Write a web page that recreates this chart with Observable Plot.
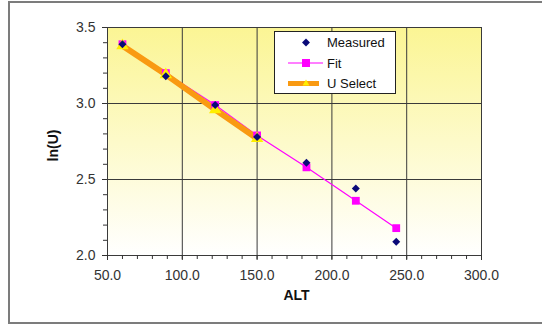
<!DOCTYPE html>
<html>
<head>
<meta charset="utf-8">
<script src="https://cdn.jsdelivr.net/npm/d3@7"></script>
<script src="https://cdn.jsdelivr.net/npm/@observablehq/plot@0.6"></script>
<style>
  body { margin: 0; background: #fff; font-family: "Liberation Sans", Arial, sans-serif; }
  #chart { position: relative; width: 542px; height: 325px; overflow: hidden; }
  #outer { position: absolute; left: 8px; top: 1px; width: 600px; height: 323px;
           border: 2px solid #7c7c7c; border-right: none; box-sizing: border-box; }
  #chart svg.plot { position: absolute; left: 0; top: 0; }
  #legend { position: absolute; left: 274px; top: 31px; width: 122px; height: 63px;
            border: 1px solid #222; background: #fff; box-sizing: border-box; }
</style>
</head>
<body>
<div id="chart"><div id="outer"></div></div>
<script>
// Altitude of each sample
const alt = [60, 89, 122, 150, 183, 216, 243];
// ln(U) as measured
const measured = [3.39, 3.18, 2.99, 2.78, 2.61, 2.44, 2.09];
// ln(U) from the straight-line fit
const fit = [3.39, 3.20, 2.99, 2.79, 2.58, 2.36, 2.18];
// Selected U values (first four altitudes)
const uSelectAlt = [60, 89, 122, 150];
const uSelect = [3.38, 3.19, 2.96, 2.77];

const xTicks = [50, 100, 150, 200, 250, 300];
const yTicks = [2.0, 2.5, 3.0, 3.5];
const xGrid = [100, 150, 200, 250];
const yGrid = [2.5, 3.0];

const seriesNames = ["Measured", "Fit", "U Select"];

const rows = alt.map((a, i) => ({alt: a, measured: measured[i], fit: fit[i]}));
const selRows = uSelectAlt.map((a, i) => ({alt: a, u: uSelect[i]}));

const fmt = d => d.toFixed(1);

const plot = Plot.plot({
  width: 542,
  height: 325,
  marginLeft: 107,
  marginRight: 61,
  marginTop: 27,
  marginBottom: 70,
  x: {domain: [50, 300], label: null},
  y: {domain: [2.0, 3.5], label: null},
  style: {fontFamily: "'Liberation Sans', Arial, sans-serif", fontSize: "14px", color: "#333", background: "transparent"},
  marks: [
    Plot.frame({fill: "url(#plotBg)", stroke: "none"}),
    Plot.gridX(xGrid, {stroke: "#3a3a3a", strokeOpacity: 1, strokeWidth: 1}),
    Plot.gridY(yGrid, {stroke: "#3a3a3a", strokeOpacity: 1, strokeWidth: 1}),
    Plot.frame({stroke: "#3a3a3a", strokeWidth: 1}),
    // minor ticks
    Plot.axisX(d3.range(50, 301, 10), {tickSize: 4, tickFormat: () => "", label: null, stroke: "#333"}),
    Plot.axisY(d3.range(20, 36, 1).map(v => v / 10), {tickSize: 4, tickFormat: () => "", label: null, stroke: "#333"}),
    // major ticks and labels
    Plot.axisX(xTicks, {tickSize: 5, tickPadding: 10, tickFormat: fmt, label: null, stroke: "#333", fill: "#333", fontSize: 14}),
    Plot.axisY(yTicks, {tickSize: 5, tickPadding: 7, tickFormat: fmt, label: null, stroke: "#333", fill: "#333", fontSize: 14}),
    // series
    Plot.line(rows, {x: "alt", y: "fit", stroke: "#ff00ff", strokeWidth: 1.2}),
    Plot.line(selRows, {x: "alt", y: "u", stroke: "#f99a12", strokeWidth: 6, strokeLinecap: "butt"}),
    Plot.dot(rows, {x: "alt", y: "fit", symbol: "square", fill: "#ff00ff", r: 4.4}),
    Plot.dot(selRows, {x: "alt", y: "u", symbol: "triangle", fill: "#ffee00", r: 4.6}),
    Plot.dot(rows, {x: "alt", y: "measured", symbol: "diamond2", fill: "#0a0a78", stroke: "none", r: 3.6}),
    // axis titles
    Plot.text(["ALT"], {frameAnchor: "bottom", dx: 2, dy: 44, text: d => d, fontWeight: "bold", fontSize: 14, fill: "#111"}),
    Plot.text(["ln(U)"], {frameAnchor: "left", textAnchor: "middle", dx: -54, dy: 4, rotate: -90, text: d => d, fontWeight: "bold", fontSize: 14, fill: "#111"})
  ]
});

// vertical yellow-to-white fill of the plotting area
const defs = d3.select(plot).insert("defs", ":first-child");
const grad = defs.append("linearGradient").attr("id", "plotBg")
  .attr("x1", 0).attr("y1", 0).attr("x2", 0).attr("y2", 1);
grad.append("stop").attr("offset", "0%").attr("stop-color", "#fbf594");
grad.append("stop").attr("offset", "100%").attr("stop-color", "#ffffff");
plot.classList.add("plot");

const chart = document.getElementById("chart");
chart.appendChild(plot);

// legend box
const legend = document.createElement("div");
legend.id = "legend";
chart.appendChild(legend);
const lsvg = d3.select(legend).append("svg").attr("width", 120).attr("height", 61)
  .style("font-family", "'Liberation Sans', Arial, sans-serif").style("font-size", "13px");
const rowY = [10.5, 31, 51.5];
seriesNames.forEach((name, i) => {
  const g = lsvg.append("g").attr("transform", `translate(0,${rowY[i]})`);
  if (i === 0) {
    g.append("path").attr("d", d3.symbol(d3.symbolDiamond2, 40)()).attr("transform", "translate(31,0)").attr("fill", "#0a0a78");
  } else if (i === 1) {
    g.append("line").attr("x1", 13).attr("x2", 48).attr("stroke", "#ff00ff").attr("stroke-width", 1.2);
    g.append("rect").attr("x", 27).attr("y", -4).attr("width", 8).attr("height", 8).attr("fill", "#ff00ff");
  } else {
    g.append("line").attr("x1", 13).attr("x2", 44).attr("stroke", "#f99a12").attr("stroke-width", 5);
    g.append("path").attr("d", d3.symbol(d3.symbolTriangle, 20)()).attr("transform", "translate(31,0)").attr("fill", "#ffee00");
  }
  g.append("text").attr("x", 52).attr("y", 0).attr("dy", "0.35em").attr("fill", "#111").text(name);
});
</script>
</body>
</html>
